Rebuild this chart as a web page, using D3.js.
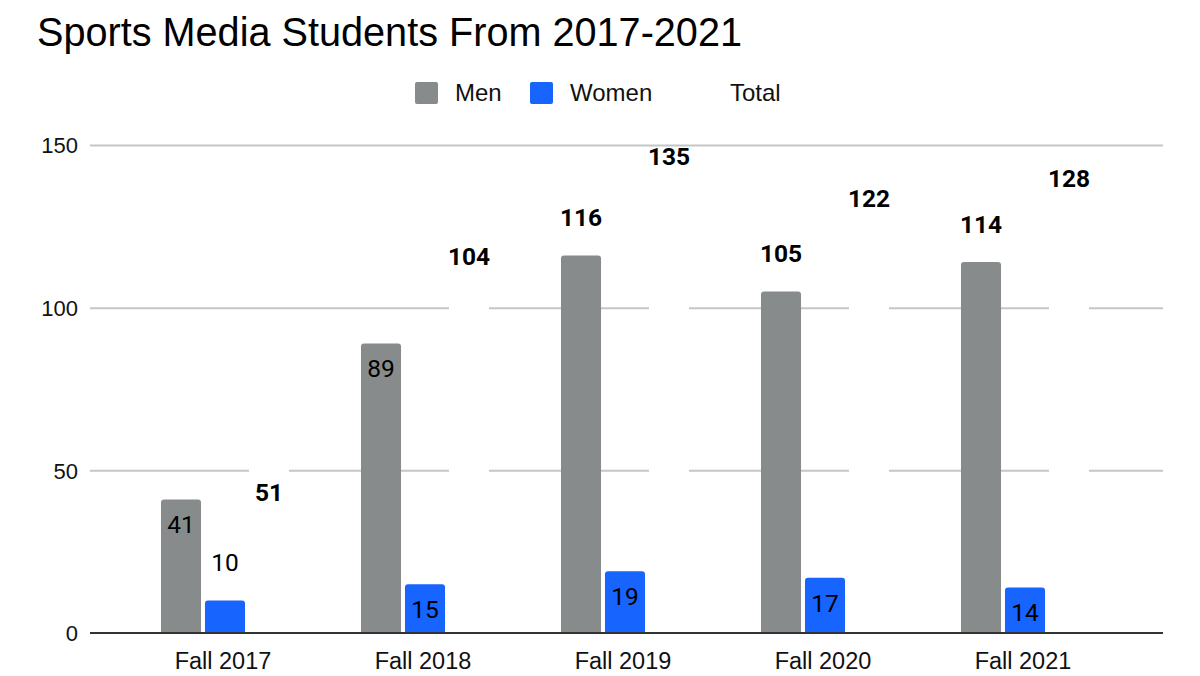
<!DOCTYPE html>
<html><head><meta charset="utf-8">
<script src="https://cdn.jsdelivr.net/npm/d3@7"></script>
<style>html,body{margin:0;padding:0;background:#fff;}svg{display:block;}</style>
</head><body>
<svg id="chart" width="1200" height="676"></svg>
<script>
const categories = ["Fall 2017", "Fall 2018", "Fall 2019", "Fall 2020", "Fall 2021"];
const seriesNames = ["Men", "Women", "Total"];
const men = [41, 89, 116, 105, 114];
const women = [10, 15, 19, 17, 14];
const total = [51, 104, 135, 122, 128];
const yTicks = [0, 50, 100, 150];
// label placement per series: true = inside bar top
const menInside = [true, true, false, false, false];
const womenInside = [false, true, true, true, true];
const totalInside = [true, false, false, false, false];

const colors = {Men: "#888b8b", Women: "#1764fe", Total: "#ffffff"};
const boldAbove = {Men: true, Women: false, Total: true};

const svg = d3.select("#chart");
const x0 = d3.scaleBand().domain(categories).range([89, 1161]).paddingInner(0.36).paddingOuter(0.36);
const x1 = d3.scaleBand().domain(seriesNames).range([0, x0.bandwidth()]).paddingInner(0.09);
const y = d3.scaleLinear().domain([0, 150]).range([633, 145]);

// title
svg.append("text").attr("x", 37).attr("y", 46)
  .attr("font-family", "Liberation Sans, Arial, sans-serif").attr("font-size", 41)
  .attr("textLength", 705).attr("lengthAdjust", "spacingAndGlyphs")
  .attr("fill", "#000").text("Sports Media Students From 2017-2021");

// gridlines
const yAxis = d3.axisLeft(y).tickValues(yTicks).tickSize(-(1163 - 90)).tickFormat(d3.format("d"));
const gy = svg.append("g").attr("transform", "translate(90,0)").call(yAxis);
gy.select(".domain").remove();
gy.selectAll(".tick line").attr("stroke", "#c4c6c6").attr("stroke-width", 2);
gy.selectAll(".tick text").attr("x", -12).attr("dy", "0.35em")
  .attr("font-family", "Liberation Sans, Arial, sans-serif").attr("font-size", 22).attr("fill", "#111");
gy.selectAll(".tick").filter(d => d === 0).select("line").remove();

// bars
const data = categories.map((c, i) => ({
  cat: c,
  vals: [
    {s: "Men", v: men[i], inside: menInside[i]},
    {s: "Women", v: women[i], inside: womenInside[i]},
    {s: "Total", v: total[i], inside: totalInside[i]}
  ]
}));

function topRounded(x, yTop, w, h, r) {
  r = Math.min(r, h);
  return `M${x},${yTop + h}V${yTop + r}Q${x},${yTop} ${x + r},${yTop}H${x + w - r}Q${x + w},${yTop} ${x + w},${yTop + r}V${yTop + h}Z`;
}

const groups = svg.append("g").selectAll("g").data(data).join("g")
  .attr("transform", d => `translate(${x0(d.cat)},0)`);

groups.selectAll("path").data(d => d.vals).join("path")
  .attr("d", d => topRounded(x1(d.s), y(d.v), x1.bandwidth(), y(0) - y(d.v), 3))
  .attr("fill", d => colors[d.s]);

// baseline
svg.append("line").attr("x1", 90).attr("x2", 1163).attr("y1", y(0)).attr("y2", y(0))
  .attr("stroke", "#333").attr("stroke-width", 2);

// labels
groups.selectAll("text.lbl").data(d => d.vals).join("text").attr("class", "lbl")
  .attr("x", d => x1(d.s) + x1.bandwidth() / 2)
  .attr("y", d => d.inside ? y(d.v) + 25 : y(d.v) - 38)
  .attr("dy", "0.36em").attr("text-anchor", "middle")
  .attr("font-family", "Roboto, sans-serif").attr("font-size", 24.5)
  .attr("font-weight", d => (d.s === "Total" || (!d.inside && boldAbove[d.s])) ? "bold" : "normal")
  .attr("fill", "#000")
  .text(d => d.v);

// x axis labels
const xAxis = d3.axisBottom(x0).tickSize(0);
const gx = svg.append("g").attr("transform", `translate(0,${y(0)})`).call(xAxis);
gx.select(".domain").remove();
gx.selectAll(".tick text").attr("y", 28).attr("dy", "0.35em")
  .attr("font-family", "Liberation Sans, Arial, sans-serif").attr("font-size", 23.5).attr("fill", "#111");
gx.selectAll(".tick").attr("transform", d => `translate(${x0(d) + x0.bandwidth() / 2 - 2},0)`);

// legend
const legendX = [415, 530, 690];
const leg = svg.append("g").selectAll("g").data(seriesNames).join("g")
  .attr("transform", (d, i) => `translate(${legendX[i]},82)`);
leg.append("rect").attr("width", 23).attr("height", 22).attr("rx", 2).attr("fill", d => colors[d]);
leg.append("text").attr("x", 40).attr("y", 19)
  .attr("font-family", "Liberation Sans, Arial, sans-serif").attr("font-size", 24).attr("fill", "#111")
  .text(d => d);
</script>
</body></html>
